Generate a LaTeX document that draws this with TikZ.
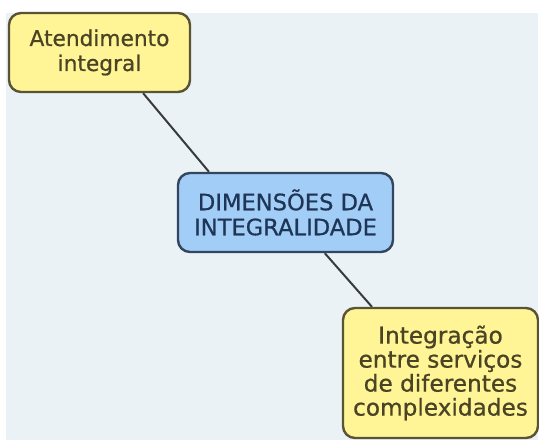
\documentclass[tikz,border=0pt]{standalone}
\usepackage{fontspec}
\setmainfont{DejaVu Sans}
\newfontfamily\topicfont{DejaVu Sans}[FakeBold=0.7]
\definecolor{bgblue}{HTML}{EAF2F6}
\definecolor{yfill}{HTML}{FFF597}
\definecolor{yborder}{HTML}{5A5434}
\definecolor{ytext}{HTML}{4A4424}
\definecolor{bfill}{HTML}{A2CDF7}
\definecolor{bborder}{HTML}{34455E}
\definecolor{btext}{HTML}{1E3556}
\definecolor{linkc}{HTML}{3A3A3A}
\tikzset{
  topic/.style={rectangle, rounded corners=12pt, line width=2.4pt, align=center,
    inner sep=0pt},
  yellowtopic/.style={topic, draw=yborder, fill=yfill, text=ytext},
  bluetopic/.style={topic, draw=bborder, fill=bfill, text=btext},
  link/.style={draw=linkc, line width=2pt}
}
\begin{document}
\begin{tikzpicture}[x=1pt,y=-1pt]
\useasboundingbox (0,0) rectangle (539,440);
\fill[white] (0,0) rectangle (539,440);
\fill[bgblue] (6,13) rectangle (538,440);
\node[yellowtopic, minimum width=181pt, minimum height=79pt,
  font=\topicfont\fontsize{21.7}{25}\selectfont] (A) at (99.5,52.5) {Atendimento\\integral};
\node[bluetopic, minimum width=215pt, minimum height=79pt,
  font=\topicfont\fontsize{22.6}{25}\selectfont] (C) at (285.5,212.5) {DIMENSÕES DA\\INTEGRALIDADE};
\node[yellowtopic, minimum width=195pt, minimum height=130pt,
  font=\topicfont\fontsize{23.2}{24}\selectfont] (B) at (440.5,373) {Integração\\entre serviços\\de diferentes\\complexidades};
\draw[link] (A.-43) -- (C.152);
\draw[link] (C.-46.5) -- (B.136.5);
\end{tikzpicture}
\end{document}
